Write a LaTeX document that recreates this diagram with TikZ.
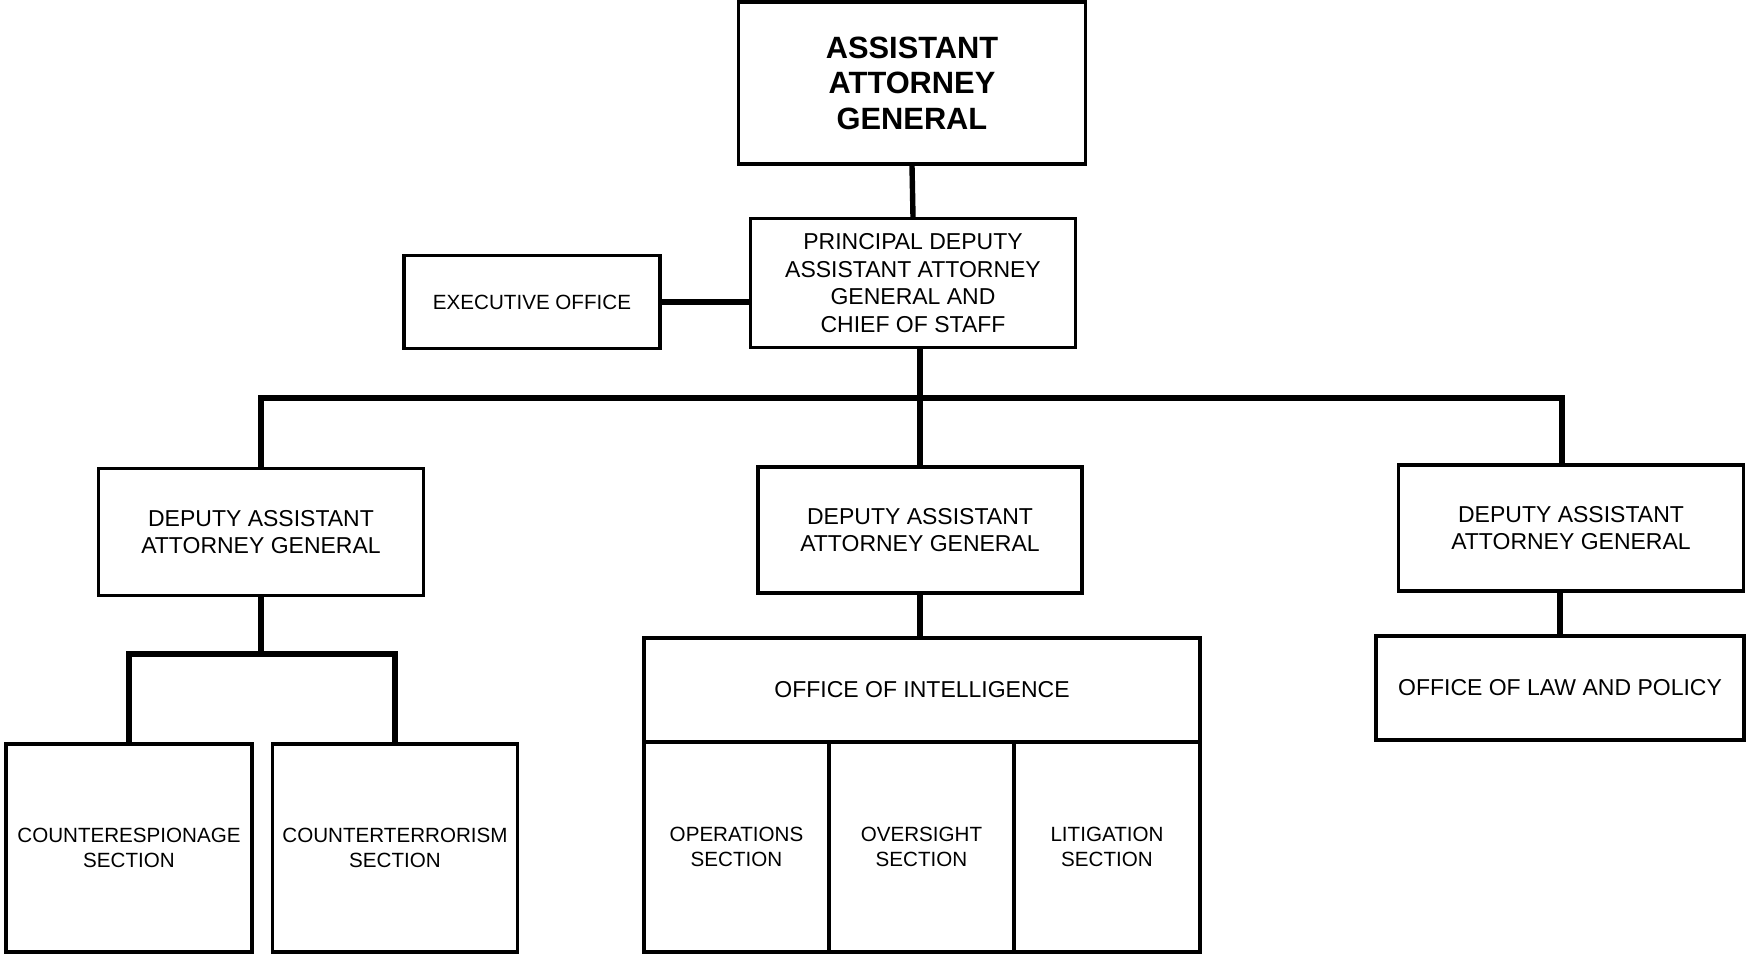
\documentclass[tikz,border=0pt]{standalone}
\usepackage{fontspec}
\setmainfont{Liberation Sans}

\begin{document}
\begin{tikzpicture}[x=0.5pt,y=-0.5pt,
  box/.style={draw, line width=1.7pt, rectangle, inner sep=0pt, align=center,
    font=\fontsize{10.3}{12.8}\selectfont},
  bigbox/.style={box, font=\fontsize{11.5}{13.8}\selectfont},
  link/.style={line width=2.7pt}]

\useasboundingbox (0,0) rectangle (1747,954);

\node [box, minimum width=173.5pt, minimum height=81pt, font=\fontsize{15.4}{17.8}\selectfont\bfseries] (aag) at (912,83) {ASSISTANT\\ATTORNEY\\GENERAL};

\node [bigbox, minimum width=162.5pt, minimum height=64.5pt] (pdaag) at (913,283) {PRINCIPAL DEPUTY\\ASSISTANT ATTORNEY\\GENERAL AND\\CHIEF OF STAFF};
\node [box, minimum width=128pt, minimum height=46.5pt] (exec) at (532,302) {EXECUTIVE OFFICE};

\node [bigbox, minimum width=162.5pt, minimum height=63.5pt] (daagL) at (261,532) {DEPUTY ASSISTANT\\ATTORNEY GENERAL};
\node [bigbox, minimum width=162pt, minimum height=63pt] (daagM) at (920,530) {DEPUTY ASSISTANT\\ATTORNEY GENERAL};
\node [bigbox, minimum width=172.5pt, minimum height=63pt] (daagR) at (1571,528) {DEPUTY ASSISTANT\\ATTORNEY GENERAL};

\node [box, minimum width=123pt, minimum height=104pt] (ce) at (129,848) {COUNTERESPIONAGE\\SECTION};
\node [box, minimum width=122.5pt, minimum height=104pt] (ct) at (395,848) {COUNTERTERRORISM\\SECTION};

\node [bigbox, minimum width=278pt, minimum height=52pt] (oi) at (922,690) {OFFICE OF INTELLIGENCE};
\node [box, minimum width=92.5pt, minimum height=105pt] (ops) at (736.5,847) {OPERATIONS\\SECTION};
\node [box, minimum width=92.5pt, minimum height=105pt] (ovs) at (921.5,847) {OVERSIGHT\\SECTION};
\node [box, minimum width=93pt, minimum height=105pt] (lit) at (1107,847) {LITIGATION\\SECTION};

\node [bigbox, minimum width=184pt, minimum height=52pt] (law) at (1560,688) {OFFICE OF LAW AND POLICY};

\coordinate (busR) at (1562,398);
\coordinate (subbus) at (261,654);

\draw [link] (aag.south) -- (pdaag.north);
\draw [link] (exec.east) -- (exec.east -| pdaag.west);
\draw [link] (pdaag.south -| daagM.north) -- (daagM.north);
\draw [link] (daagL.north) |- (busR) -- (busR |- daagR.north);

\draw [link] (daagL.south) -- (subbus);
\draw [link] (ce.north) |- (subbus) -| (ct.north);

\draw [link] (daagM.south) -- (daagM.south |- oi.north);
\draw [link] (law.north |- daagR.south) -- (law.north);

\end{tikzpicture}
\end{document}
